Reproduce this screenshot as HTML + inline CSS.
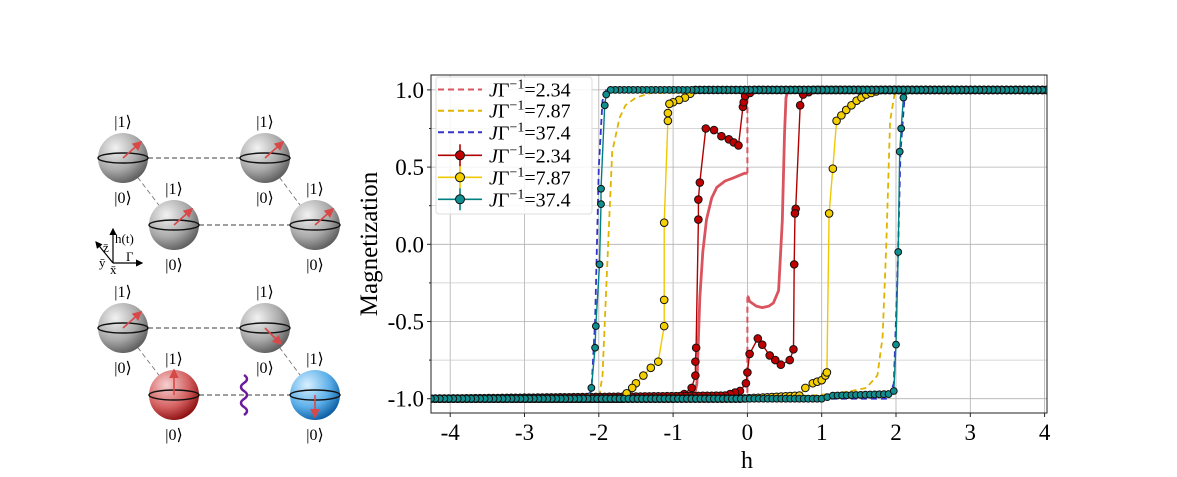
<!DOCTYPE html>
<html><head><meta charset="utf-8"><style>
body{margin:0;background:#fff}
svg{display:block;font-family:"Liberation Serif",serif}
</style></head><body>
<svg id="fig" width="1177" height="477" viewBox="0 0 1177 477" xmlns="http://www.w3.org/2000/svg">
<defs>
<radialGradient id="gGray" cx="0.35" cy="0.3" r="0.75"><stop offset="0" stop-color="#f2f2f2"/><stop offset="0.6" stop-color="#a8a8a8"/><stop offset="1" stop-color="#5a5a5a"/></radialGradient>
<radialGradient id="gRed" cx="0.35" cy="0.3" r="0.75"><stop offset="0" stop-color="#f6d0d0"/><stop offset="0.6" stop-color="#d46060"/><stop offset="1" stop-color="#8a0c0c"/></radialGradient>
<radialGradient id="gBlue" cx="0.35" cy="0.3" r="0.75"><stop offset="0" stop-color="#d8f0ff"/><stop offset="0.6" stop-color="#5aaee8"/><stop offset="1" stop-color="#0a5aa0"/></radialGradient>
<clipPath id="plotClip"><rect x="431" y="75" width="616" height="338"/></clipPath>
<marker id="arrR" markerWidth="6" markerHeight="6" refX="5" refY="3" orient="auto"><path d="M0,0 L6,3 L0,6 z" fill="#d84848"/></marker>
<marker id="arrK" markerWidth="6" markerHeight="6" refX="5" refY="3" orient="auto"><path d="M0,0 L6,3 L0,6 z" fill="#000"/></marker>
</defs>
<g id="diagram"></g>
<g id="grid"></g>
<g id="series" clip-path="url(#plotClip)"></g>
<rect x="431" y="75" width="616" height="338" fill="none" stroke="#222" stroke-width="1"/>
<g id="ticks"></g>
<text x="747" y="468" font-size="24" text-anchor="middle">h</text>
<text transform="translate(377,244) rotate(-90)" font-size="25" text-anchor="middle">Magnetization</text>
<g id="legend"></g>
</svg>
<script>
const xTicks=[-4,-3,-2,-1,0,1,2,3,4];
const yTicks=[-1,-0.5,0,0.5,1];
const yTickLabels=["-1.0","-0.5","0.0","0.5","1.0"];
const yMinor=[-0.75,-0.25,0.25,0.75];
// theory (dashed) curves
const pinkAH=[-4.26,-0.72,-0.68,-0.64,-0.6,-0.55,-0.48,-0.41,-0.3,-0.19,-0.04,0.0];
const pinkAM=[-1,-1,-0.9,-0.35,-0.05,0.16,0.3,0.37,0.41,0.43,0.46,0.46];
const pinkAJumpH=[0,0,4.03];
const pinkAJumpM=[0.46,1,1];
const pinkBH=[4.03,0.55,0.52,0.5,0.47,0.42,0.35,0.29,0.2,0.12,0.03,0.01,0];
const pinkBM=[1,1,0.95,0.71,0.15,-0.3,-0.38,-0.4,-0.41,-0.4,-0.37,-0.34,-0.34];
const pinkBJumpH=[0,0,-4.26];
const pinkBJumpM=[-0.34,-1,-1];
const yDashAH=[-4.26,-2.0,-1.95,-1.89,-1.82,-1.72,-1.64,-1.5,-1.3,4.03];
const yDashAM=[-1,-1,-0.85,-0.17,0.6,0.82,0.9,0.95,0.98,1];
const yDashBH=[-4.26,0.85,1.1,1.4,1.6,1.75,1.82,1.87,1.92,1.98,2.1,4.03];
const yDashBM=[-1,-0.98,-0.97,-0.95,-0.93,-0.85,-0.6,0,0.8,0.97,1,1];
const bDashAH=[-4.26,-2.2,-2.1,-2.05,-2.0,-1.95,-1.9,4.03];
const bDashAM=[-1,-1,-0.95,-0.5,0.5,0.93,1,1];
const bDashBH=[-4.26,1.9,1.97,2.02,2.06,2.12,4.03];
const bDashBM=[-1,-1,-0.9,-0.2,0.6,0.98,1];
// simulated (marker) curves
const redAH=[-4.26,-1.0,-0.85,-0.75,-0.7,-0.7,-0.69,-0.66,-0.66,-0.64,-0.56,-0.45,-0.35,-0.25,-0.12,-0.06,-0.05,-0.03,0.1,4.03];
const redAM=[-1,-1,-0.97,-0.93,-0.85,-0.76,-0.67,0.16,0.29,0.40,0.75,0.74,0.7,0.68,0.64,0.89,0.92,0.96,1,1];
const redBH=[4.03,0.9,0.75,0.71,0.65,0.64,0.63,0.62,0.57,0.45,0.3,0.2,0.14,0.03,0.0,-0.02,-0.1,-0.3,-4.26];
const redBM=[1,1,0.97,0.9,0.23,0.2,-0.13,-0.68,-0.75,-0.78,-0.72,-0.65,-0.61,-0.71,-0.83,-0.9,-0.95,-0.98,-1];
const yelAH=[-4.26,-0.1,0.7,0.78,0.88,1.0,1.05,1.07,1.1,1.15,1.2,1.33,1.47,1.6,1.8,4.03];
const yelAM=[-1,-1,-0.98,-0.93,-0.9,-0.88,-0.85,-0.83,0.2,0.49,0.8,0.87,0.93,0.97,1,1];
const yelBH=[4.03,-0.7,-0.84,-1.0,-1.05,-1.07,-1.07,-1.12,-1.12,-1.12,-1.2,-1.3,-1.4,-1.5,-1.55,-1.7,-4.26];
const yelBM=[1,1,0.95,0.92,0.91,0.85,0.80,0.14,-0.36,-0.53,-0.76,-0.8,-0.85,-0.9,-0.93,-1.0,-1];
const tealAH=[-4.26,1.0,1.15,1.9,1.97,2.0,2.03,2.05,2.07,2.1,2.2,4.03];
const tealAM=[-1,-1,-0.98,-0.97,-0.95,-0.65,-0.05,0.6,0.75,0.95,1,1];
const tealBH=[4.03,-1.84,-1.9,-1.92,-1.97,-1.97,-1.99,-2.04,-2.05,-2.1,-2.15,-4.26];
const tealBM=[1,1,0.97,0.9,0.36,0.26,-0.13,-0.53,-0.67,-0.93,-1,-1];
const legendLabels=["2.34","7.87","37.4","2.34","7.87","37.4"];

const NS="http://www.w3.org/2000/svg";
const X=h=>747.4+74.3*h;
const Y=m=>244.3-154.4*m;
function mk(tag,attrs,parent){const e=document.createElementNS(NS,tag);for(const k in attrs)e.setAttribute(k,attrs[k]);parent.appendChild(e);return e;}
const grid=document.getElementById('grid'),ticks=document.getElementById('ticks'),ser=document.getElementById('series'),leg=document.getElementById('legend'),dg=document.getElementById('diagram');

xTicks.forEach(t=>{
  const g=mk('line',{x1:X(t),x2:X(t),y1:75,y2:413,stroke:'#b0b0b0','stroke-width':0.8},grid);
  
  const tk=mk('line',{x1:X(t),x2:X(t),y1:413,y2:417,stroke:'#222'},ticks);
  
  const tx=mk('text',{x:X(t),y:440,'font-size':23,'text-anchor':'middle'},ticks);tx.textContent=String(t);
  
});
yTicks.forEach((t,i)=>{
  const g=mk('line',{x1:431,x2:1047,y1:Y(t),y2:Y(t),stroke:'#b0b0b0','stroke-width':0.8},grid);
  
  const tk=mk('line',{x1:427,x2:431,y1:Y(t),y2:Y(t),stroke:'#222'},ticks);
  
  const tx=mk('text',{x:424,y:Y(t)+8,'font-size':23,'text-anchor':'end'},ticks);tx.textContent=yTickLabels[i];
  
});
yMinor.forEach(t=>{
  const g=mk('line',{x1:431,x2:1047,y1:Y(t),y2:Y(t),stroke:'#c8c8c8','stroke-width':0.7},grid);
  
  const tk=mk('line',{x1:429,x2:431,y1:Y(t),y2:Y(t),stroke:'#222'},ticks);
  
});

function line(H,M,color,w,dash,name){
  const d=H.map((h,i)=>(i?'L':'M')+X(h).toFixed(1)+','+Y(M[i]).toFixed(1)).join(' ');
  const p=mk('path',{d:d,fill:'none',stroke:color,'stroke-width':w,'stroke-dasharray':dash||'none','stroke-linejoin':'round'},ser);
  
}
function markers(H,M,fill,r,name){
  const pts=[];
  for(let i=0;i<H.length;i++){
    pts.push([H[i],M[i]]);
    if(i<H.length-1){const dh=H[i+1]-H[i];const n=Math.floor(Math.abs(dh)/0.06);
      for(let k=1;k<n;k++){const f=k/n;pts.push([H[i]+dh*f,M[i]+(M[i+1]-M[i])*f]);}}
  }
  pts.forEach(p=>{const c=mk('circle',{cx:X(p[0]),cy:Y(p[1]),r:r,fill:fill,stroke:'#111','stroke-width':1},ser);
    });
}
line(pinkAH,pinkAM,'#d9545e',2.8,null,'theory-2.34-up');
line(pinkAJumpH,pinkAJumpM,'#d9545e',2,'6,4','theory-2.34-up-jump');
line(pinkBH,pinkBM,'#d9545e',2.8,null,'theory-2.34-down');
line(pinkBJumpH,pinkBJumpM,'#d9545e',2,'6,4','theory-2.34-down-jump');
line(yDashAH,yDashAM,'#e0b400',1.8,'6,4','theory-7.87-left');
line(yDashBH,yDashBM,'#e0b400',1.8,'6,4','theory-7.87-right');
line(bDashAH,bDashAM,'#3333cc',1.8,'6,4','theory-37.4-left');
line(bDashBH,bDashBM,'#3333cc',1.8,'6,4','theory-37.4-right');
line(redAH,redAM,'#b00000',1.4,null,'sim-2.34-line-a');
line(redBH,redBM,'#b00000',1.4,null,'sim-2.34-line-b');
markers(redAH,redAM,'#c00000',3.8,'sim-2.34-point');
markers(redBH,redBM,'#c00000',3.8,'sim-2.34-point');
line(yelAH,yelAM,'#f0c800',1.4,null,'sim-7.87-line-a');
line(yelBH,yelBM,'#f0c800',1.4,null,'sim-7.87-line-b');
markers(yelAH,yelAM,'#f5d000',3.8,'sim-7.87-point');
markers(yelBH,yelBM,'#f5d000',3.8,'sim-7.87-point');
line(tealAH,tealAM,'#008080',1.4,null,'sim-37.4-line-a');
line(tealBH,tealBM,'#008080',1.4,null,'sim-37.4-line-b');
markers(tealAH,tealAM,'#0f8f8f',3.4,'sim-37.4-point');
markers(tealBH,tealBM,'#0f8f8f',3.4,'sim-37.4-point');

// legend
const lb=mk('rect',{x:436,y:77,width:156,height:137,rx:3,fill:'#fff','fill-opacity':0.85,stroke:'#ddd'},leg);

const legColors=['#d9545e','#e0b400','#3333cc','#b00000','#f0c800','#008080'];
const legFill=['','','','#c00000','#f5d000','#0f8f8f'];
const rows=[89.5,110.7,132.3,155.3,177.3,199.3];
legendLabels.forEach((lab,i)=>{
  const y=rows[i];
  const g=mk('g',{},leg);
  if(i<3){mk('line',{x1:438,x2:482,y1:y,y2:y,stroke:legColors[i],'stroke-width':2,'stroke-dasharray':'6,4'},g);}
  else{mk('line',{x1:438,x2:482,y1:y,y2:y,stroke:legColors[i],'stroke-width':1.6},g);
    mk('line',{x1:460,x2:460,y1:y-11,y2:y+11,stroke:legColors[i],'stroke-width':1.6},g);
    mk('circle',{cx:460,cy:y,r:4.5,fill:legFill[i],stroke:'#111'},g);}
  const t=mk('text',{x:489,y:y+7,'font-size':20},g);
  t.innerHTML='<tspan font-style="italic">J</tspan>Γ<tspan font-size="14" dy="-8">−1</tspan><tspan dy="8">='+lab+'</tspan>';
});

// diagram
const spheres=[[123,158,'gGray',1],[265,158,'gGray',1],[174,225,'gGray',1],[315,225,'gGray',1],[123,328,'gGray',1],[265,328,'gGray',2],[174,395,'gRed',3],[315,395,'gBlue',4]];
function dl(x1,y1,x2,y2,w){mk('line',{x1,y1,x2,y2,stroke:'#666','stroke-width':w||1.2,'stroke-dasharray':'5,3'},dg);}
dl(148,158,240,158);dl(199,225,290,225);dl(123,158,174,225,0.8);dl(265,158,315,225,0.8);
dl(148,328,240,328);dl(199,395,290,395);dl(123,328,174,395,0.8);dl(265,328,315,395,0.8);
spheres.forEach(s=>{
  const [cx,cy,gr,a]=s;
  const g=mk('g',{},dg);
  mk('circle',{cx,cy,r:25,fill:'url(#'+gr+')'},g);
  mk('ellipse',{cx,cy,rx:25,ry:5,fill:'none',stroke:'#111','stroke-width':1.4},g);
  let ex=cx+18,ey=cy-16;
  if(a===2){ex=cx+16;ey=cy+16;} if(a===3){ex=cx;ey=cy-25;} if(a===4){ex=cx;ey=cy+22;}
  mk('line',{x1:cx,y1:cy,x2:ex,y2:ey,stroke:'#d84848','stroke-width':1.6,'marker-end':'url(#arrR)'},g);
  const t1=mk('text',{x:cx,y:cy-31,'font-size':16,'text-anchor':'middle'},g);t1.textContent='|1⟩';
  const t0=mk('text',{x:cx,y:cy+45,'font-size':16,'text-anchor':'middle'},g);t0.textContent='|0⟩';
});
const wv=mk('path',{d:'M244,375 q6,4 0,8 q-6,4 0,8 q6,4 0,8 q-6,4 0,8 q6,4 0,8',fill:'none',stroke:'#6a1a9a','stroke-width':2.5},dg);


const ax=mk('g',{},dg);
mk('line',{x1:113,y1:263,x2:113,y2:229,stroke:'#000','stroke-width':1.2,'marker-end':'url(#arrK)'},ax);
mk('line',{x1:113,y1:263,x2:142,y2:263,stroke:'#000','stroke-width':1.2,'marker-end':'url(#arrK)'},ax);
mk('line',{x1:113,y1:263,x2:96,y2:242,stroke:'#000','stroke-width':1.2,'marker-end':'url(#arrK)'},ax);
[['h(t)',115,243],['Γ',126,261],['z̄',103,252],['ȳ',99,267],['x̄',110,274]].forEach(a=>{const t=mk('text',{x:a[1],y:a[2],'font-size':13},ax);t.textContent=a[0];});
</script>
</body></html>
